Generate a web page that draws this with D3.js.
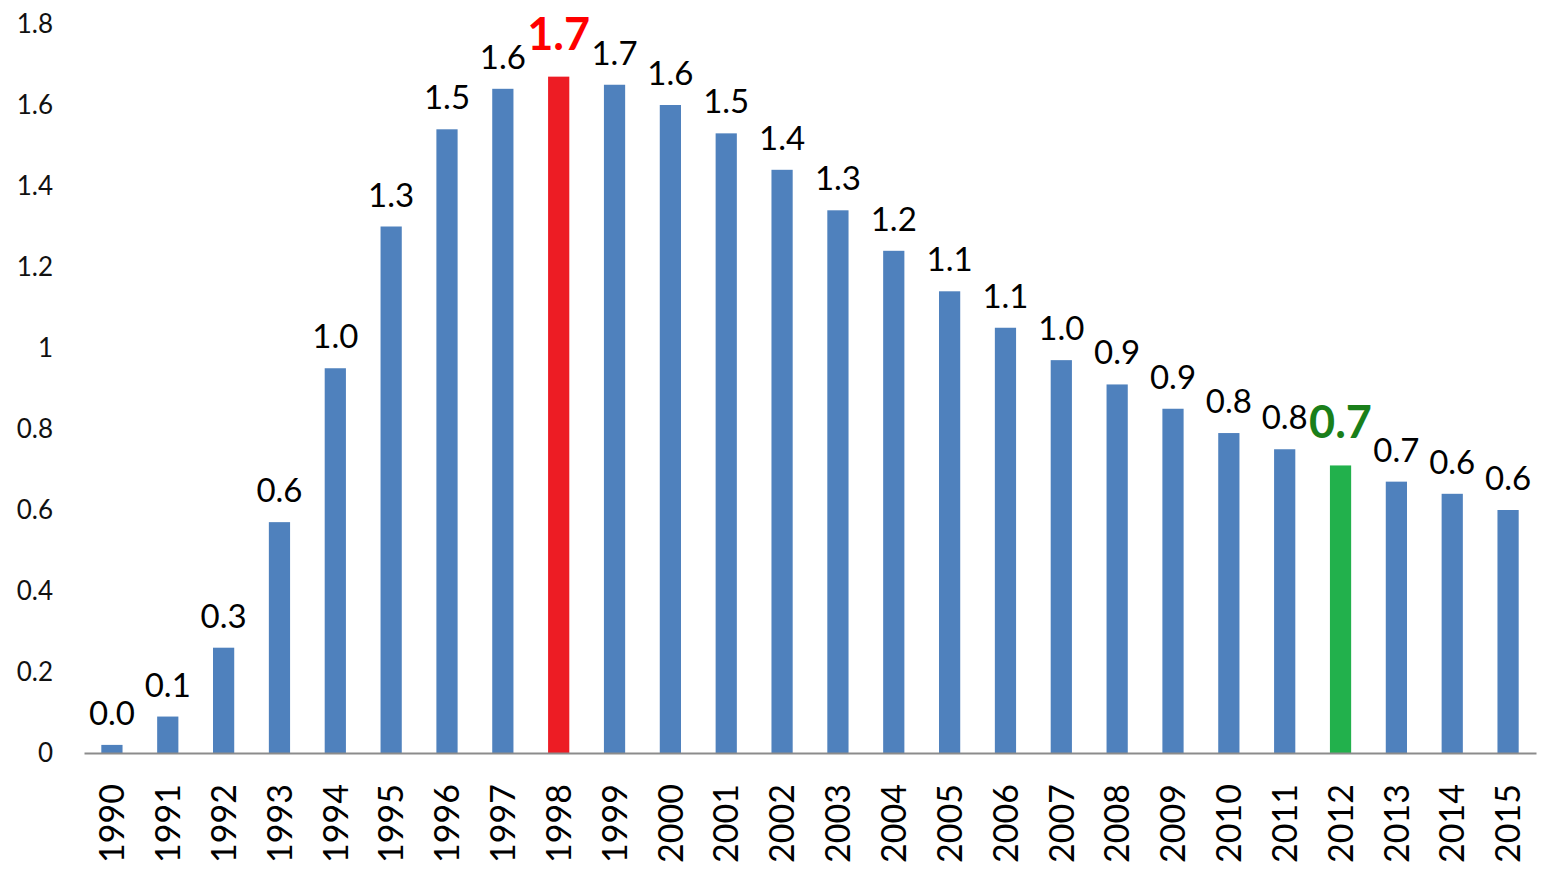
<!DOCTYPE html>
<html>
<head>
<meta charset="utf-8">
<script src="https://cdn.jsdelivr.net/npm/d3@7"></script>
<style>
  body { margin: 0; background: #fff; }
  text { font-family: Lato, "Open Sans", sans-serif; }
</style>
</head>
<body>
<div id="chart-area"></div>
<script>
// data
var years = ["1990","1991","1992","1993","1994","1995","1996","1997","1998","1999",
             "2000","2001","2002","2003","2004","2005","2006","2007","2008","2009",
             "2010","2011","2012","2013","2014","2015"];
var values = [0.02, 0.09, 0.26, 0.57, 0.95, 1.30, 1.54, 1.64, 1.67, 1.65,
              1.60, 1.53, 1.44, 1.34, 1.24, 1.14, 1.05, 0.97, 0.91, 0.85,
              0.79, 0.75, 0.71, 0.67, 0.64, 0.60];
var labels = ["0.0","0.1","0.3","0.6","1.0","1.3","1.5","1.6","1.7","1.7",
              "1.6","1.5","1.4","1.3","1.2","1.1","1.1","1.0","0.9","0.9",
              "0.8","0.8","0.7","0.7","0.6","0.6"];
var yTicks = [0, 0.2, 0.4, 0.6, 0.8, 1, 1.2, 1.4, 1.6, 1.8];
var maxYear = "1998", minYear = "2012";

var W = 1541, H = 869;
var margin = { left:84, right:5, top:24, bottom:116 };
var width = W - margin.left - margin.right,
    height = H - margin.top - margin.bottom;

var svg = d3.select("#chart-area")
    .append("svg")
        .attr("width", W)
        .attr("height", H);

var g = svg.append("g")
    .attr("transform", "translate(" + margin.left + ", " + margin.top + ")");

var data = years.map(function(y, i){
    return { year: y, value: values[i], label: labels[i] };
});

var x = d3.scaleBand()
    .domain(years)
    .range([0, width])
    .paddingInner(0.62)
    .paddingOuter(0.31);

var y = d3.scaleLinear()
    .domain([0, 1.8])
    .range([height, 0]);

// Y axis (labels only)
var yAxisCall = d3.axisLeft(y)
    .tickValues(yTicks)
    .tickSize(0)
    .tickPadding(0)
    .tickFormat(function(d){ return d3.format("")(+d.toFixed(1)); });
var yAxis = g.append("g")
    .attr("class", "y-axis")
    .attr("transform", "translate(-31, 0)")
    .call(yAxisCall);
yAxis.select(".domain").remove();
yAxis.selectAll("text")
    .attr("font-size", "26px")
    .attr("fill", "#111");

// bars
g.selectAll("rect.bar")
    .data(data)
    .enter()
    .append("rect")
        .attr("class", "bar")
        .attr("x", function(d){ return x(d.year); })
        .attr("y", function(d){ return y(d.value); })
        .attr("width", x.bandwidth())
        .attr("height", function(d){ return height - y(d.value); })
        .attr("fill", function(d){
            if (d.year === maxYear) return "#ed1c24";
            if (d.year === minYear) return "#22b14c";
            return "#4f81bd";
        });

// X axis
var xAxisCall = d3.axisBottom(x).tickSize(0).tickPadding(0);
var xAxis = g.append("g")
    .attr("class", "x axis")
    .attr("transform", "translate(0, " + height + ")")
    .call(xAxisCall);
xAxis.select(".domain")
    .attr("stroke", "#8c8c8c")
    .attr("stroke-width", 2);
xAxis.selectAll("text")
    .attr("font-size", "34px")
    .attr("fill", "#000")
    .attr("text-anchor", "end")
    .attr("y", 0)
    .attr("x", 0)
    .attr("dy", "0.36em")
    .attr("transform", "translate(0, 31) rotate(-90)");

// data labels
g.selectAll("text.value")
    .data(data)
    .enter()
    .append("text")
        .attr("class", "value")
        .attr("x", function(d){ return x(d.year) + x.bandwidth() / 2; })
        .attr("y", function(d){
            var special = d.year === maxYear || d.year === minYear;
            return y(d.value) - (special ? 27 : 20);
        })
        .attr("text-anchor", "middle")
        .attr("font-size", function(d){
            return (d.year === maxYear || d.year === minYear) ? "45px" : "33px";
        })
        .attr("font-weight", function(d){
            return (d.year === maxYear || d.year === minYear) ? "bold" : "normal";
        })
        .attr("fill", function(d){
            if (d.year === maxYear) return "#ff0000";
            if (d.year === minYear) return "#1a7f1a";
            return "#000";
        })
        .text(function(d){ return d.label; });
</script>
</body>
</html>
